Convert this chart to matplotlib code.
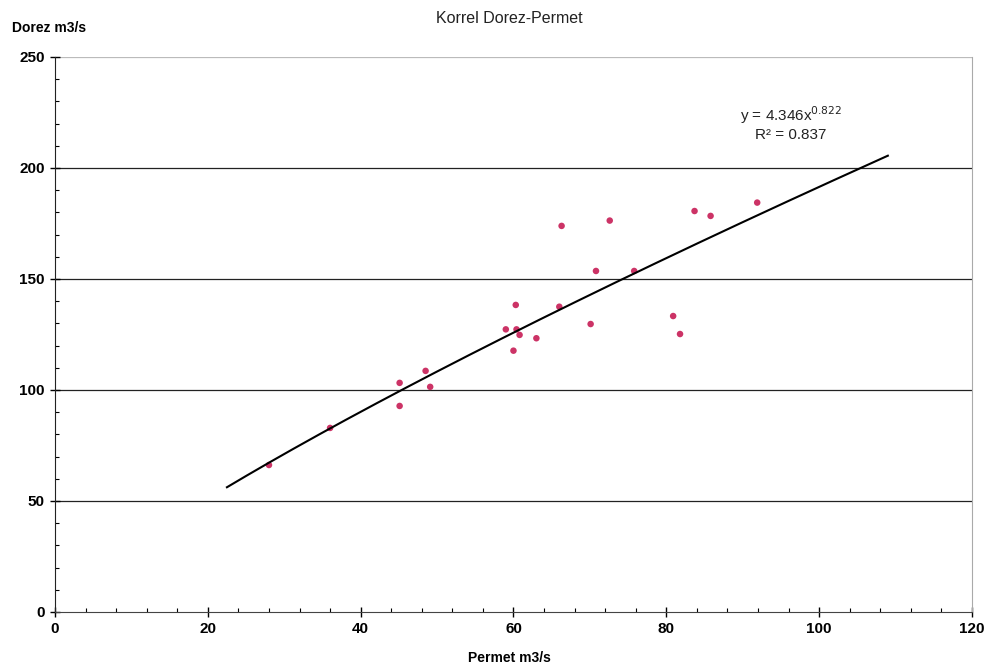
import matplotlib
matplotlib.use("Agg")
import matplotlib.pyplot as plt
import numpy as np
from matplotlib.ticker import MultipleLocator

plt.rcParams['font.family'] = ['Liberation Sans', 'DejaVu Sans']

permet = [28.0, 36.0, 45.1, 45.1, 48.5, 49.1, 59.0, 60.0, 60.3, 60.4, 60.8, 63.0,
          66.0, 66.3, 70.1, 70.8, 72.6, 75.8, 80.9, 81.8, 83.7, 85.8, 91.9]
dorez = [66.2, 82.9, 103.2, 92.8, 108.6, 101.4, 127.3, 117.7, 138.3, 127.3, 124.8, 123.3,
         137.5, 173.9, 129.7, 153.6, 176.3, 153.6, 133.3, 125.2, 180.6, 178.4, 184.4]
coef_a = 4.346
coef_b = 0.822
r2 = 0.837
trend_range = (22.5, 109.0)

fig = plt.figure(figsize=(9.88, 6.7), dpi=100)
ax = fig.add_axes([0.0557, 0.0866, 0.928, 0.8284])

ax.set_xlim(0, 120)
ax.set_ylim(0, 250)

for yv in [50, 100, 150, 200]:
    ax.axhline(yv, color='#222222', lw=0.9, zorder=1)
ax.axhline(250, color='#bbbbbb', lw=0.9, zorder=1)

ax.scatter(permet, dorez, s=22, color='#cc3366', zorder=3, edgecolors='none')

xt = np.linspace(trend_range[0], trend_range[1], 200)
ax.plot(xt, coef_a * xt ** coef_b, color='black', lw=1.5, zorder=4)

ax.text(96.3, 224, 'y = %.3fx$^{%.3f}$' % (coef_a, coef_b), ha='center', va='center',
        fontsize=11, color='#222222')
ax.text(96.3, 215, 'R² = %.3f' % r2, ha='center', va='center', fontsize=11, color='#222222')

ax.spines['top'].set_visible(False)
ax.spines['right'].set_color('#aaaaaa')
ax.spines['left'].set_color('#222222')
ax.spines['bottom'].set_color('#444444')

ax.xaxis.set_major_locator(MultipleLocator(20))
ax.xaxis.set_minor_locator(MultipleLocator(4))
ax.yaxis.set_major_locator(MultipleLocator(50))
ax.yaxis.set_minor_locator(MultipleLocator(10))
ax.tick_params(axis='both', which='major', direction='inout', length=7, width=1,
               labelsize=11, pad=4)
ax.tick_params(axis='both', which='minor', direction='in', length=3, width=0.8)
for lab in ax.get_xticklabels() + ax.get_yticklabels():
    lab.set_fontweight('bold')

fig.text(0.516, 0.972, 'Korrel Dorez-Permet', ha='center', va='center', fontsize=11.5, color='#222222')
fig.text(0.012, 0.958, 'Dorez m3/s', ha='left', va='center', fontsize=10, fontweight='bold')
fig.text(0.516, 0.018, 'Permet m3/s', ha='center', va='center', fontsize=10, fontweight='bold')

fig.savefig('out.png', dpi=100)
